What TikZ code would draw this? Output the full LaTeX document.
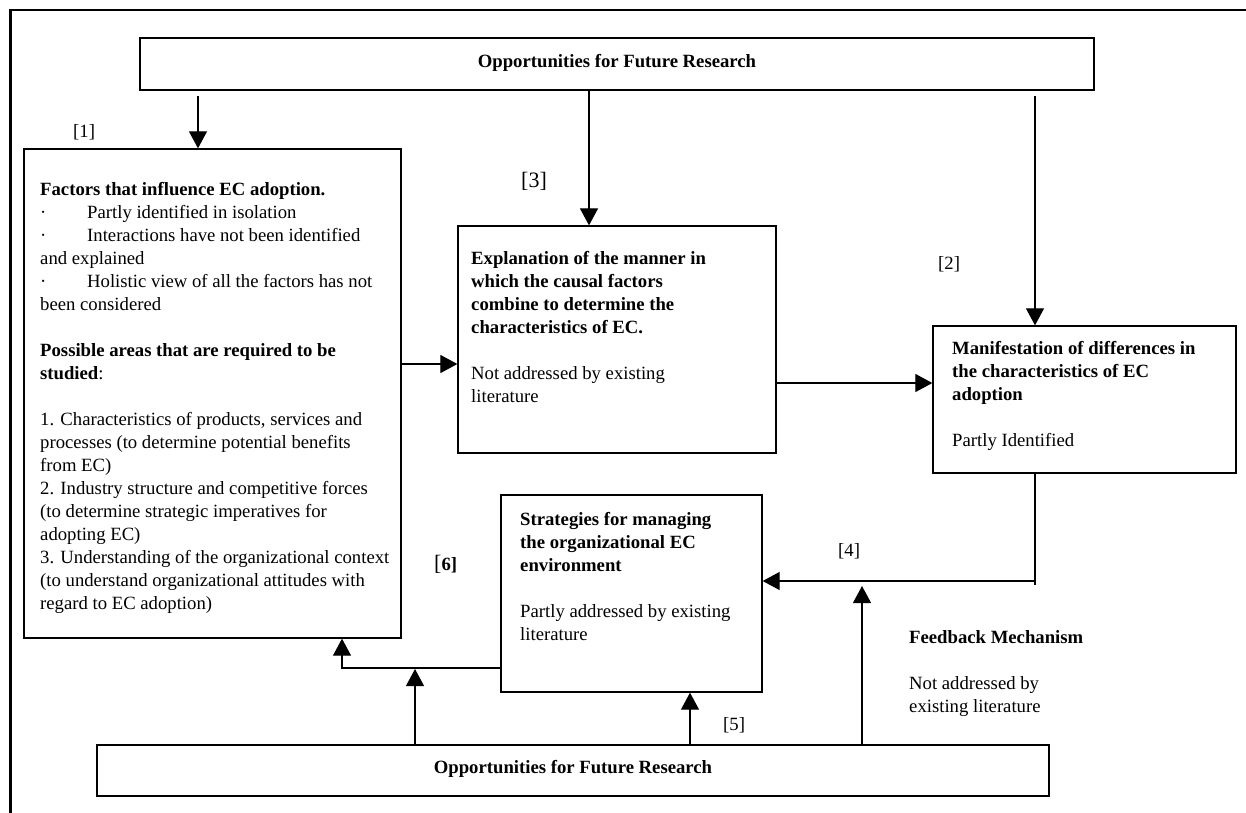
\documentclass[tikz,border=0pt]{standalone}
\usepackage{fontspec}
\setmainfont{Liberation Serif}
\usetikzlibrary{arrows.meta}
\begin{document}
\begin{tikzpicture}[x=1pt,y=-1pt,
  box/.style={draw=black, line width=1.3pt, rectangle, inner sep=0pt},
  txt/.style={anchor=north west, inner sep=0pt, align=left, font=\fontsize{18.7}{23}\selectfont},
  lbl/.style={anchor=base west, inner sep=0pt, font=\fontsize{18.7}{23}\selectfont},
  ctr/.style={anchor=base, inner sep=0pt, font=\fontsize{18.7}{23}\selectfont\bfseries},
  conn/.style={line width=1.2pt},
  arr/.style={conn, -{Triangle[width=18pt,length=17pt]}}
]
\useasboundingbox (0,0) rectangle (1246,812);
% outer frame (only left and top edges fall inside the picture)
\draw[line width=2.5pt] (10.5,830) -- (10.5,10) -- (1260,10);

% boxes
\node[box, minimum width=954pt, minimum height=52pt] (T) at (617,64) {};
\node[box, minimum width=377pt, minimum height=489pt] (L) at (212.5,393.5) {};
\node[box, minimum width=318pt, minimum height=227pt] (M) at (617,339.5) {};
\node[box, minimum width=303pt, minimum height=147pt] (R) at (1084.5,399.5) {};
\node[box, minimum width=261pt, minimum height=197pt] (S) at (631.5,593.5) {};
\node[box, minimum width=952pt, minimum height=51pt] (B) at (573,770.5) {};

% texts
\node[ctr] (Tt) at (617,67) {Opportunities for Future Research};
\node[ctr] (Bt) at (573,773) {Opportunities for Future Research};

\node[txt] (Lt) at (40,178.9) {\strut\textbf{Factors that influence EC adoption.}\\
\makebox[47pt][l]{·}Partly identified in isolation\\
\makebox[47pt][l]{·}Interactions have not been identified\\
and explained\\
\makebox[47pt][l]{·}Holistic view of all the factors has not\\
been considered\\[23pt]
\textbf{Possible areas that are required to be}\\
\textbf{studied}:\\[23pt]
1. Characteristics of products, services and\\
processes (to determine potential benefits\\
from EC)\\
2. Industry structure and competitive forces\\
(to determine strategic imperatives for\\
adopting EC)\\
3. Understanding of the organizational context\\
(to understand organizational attitudes with\\
regard to EC adoption)};

\node[txt] (Mt) at (471,247.9) {\strut\textbf{Explanation of the manner in}\\
\textbf{which the causal factors}\\
\textbf{combine to determine the}\\
\textbf{characteristics of EC.}\\[23pt]
Not addressed by existing\\
literature};

\node[txt] (Rt) at (952,337.9) {\strut\textbf{Manifestation of differences in}\\
\textbf{the characteristics of EC}\\
\textbf{adoption}\\[23pt]
Partly Identified};

\node[txt] (St) at (520,508.9) {\strut\textbf{Strategies for managing}\\
\textbf{the organizational EC}\\
\textbf{environment}\\[23pt]
Partly addressed by existing\\
literature};

\node[txt] (Ft) at (909,626.9) {\strut\textbf{Feedback Mechanism}\\[23pt]
Not addressed by\\
existing literature};

% labels
\node[lbl] (l1) at (73,137) {[1]};
\node[lbl, font=\fontsize{22}{26}\selectfont] (l3) at (521,187) {[3]};
\node[lbl] (l2) at (938,269) {[2]};
\node[lbl] (l4) at (838,556) {[4]};
\node[lbl] (l5) at (723,730) {[5]};
\node[lbl] (l6) at (434,570) {{\fontsize{22}{26}\selectfont[}\textbf{6]}};

% helper coordinates
\coordinate (p1) at (198,96);
\coordinate (p3) at (589,0);
\coordinate (p2) at (1035,96);
\coordinate (hLM) at (0,364);
\coordinate (hMR) at (0,383);
\coordinate (fb) at (1035,585);
\coordinate (hF) at (0,581);
\coordinate (v4) at (862,586);
\coordinate (v5) at (690,0);
\coordinate (h6) at (342,668);
\coordinate (v6) at (415,669);

% connectors
\draw[arr] (p1) -- (p1 |- L.north);
\draw[arr] (T.south -| p3) -- (M.north -| p3);
\draw[arr] (p2) -- (p2 |- R.north);
\draw[arr] (L.east |- hLM) -- (M.west |- hLM);
\draw[arr] (M.east |- hMR) -- (R.west |- hMR);
\draw[conn] (R.south -| fb) -- (fb);
\draw[arr] (fb |- hF) -- (S.east |- hF);
\draw[arr] (B.north -| v4) -- (v4);
\draw[arr] (B.north -| v5) -- (S.south -| v5);
\draw[arr] (S.west |- h6) -- (h6) -- (L.south -| h6);
\draw[arr] (B.north -| v6) -- (v6);
\end{tikzpicture}
\end{document}
